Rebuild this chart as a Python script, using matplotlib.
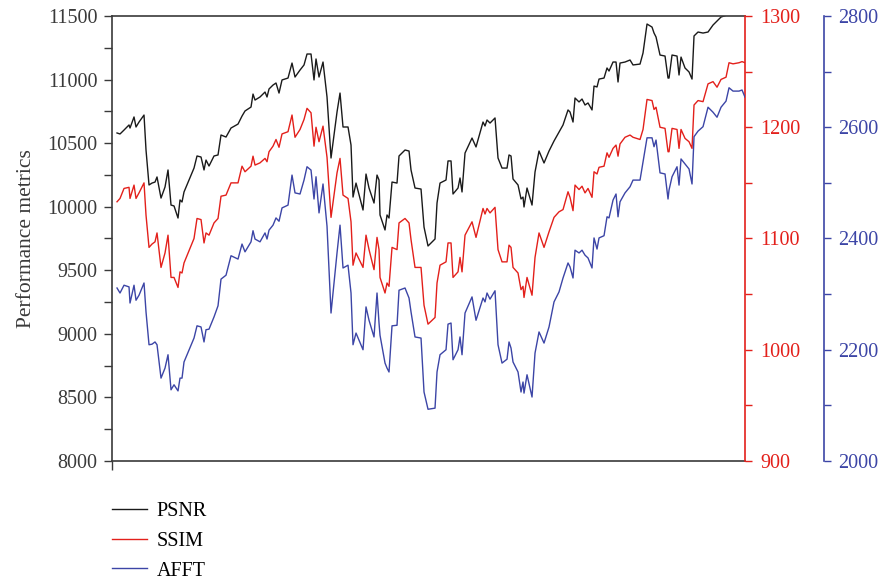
import matplotlib.pyplot as plt
from matplotlib.ticker import MultipleLocator

# trading-day index shared by the three metrics
days = [0, 3, 7, 12, 13, 17, 19, 22, 27, 29, 32, 35, 38, 40, 44, 48, 51, 54, 57, 61,
        63, 65, 67, 77, 80, 84, 87, 89, 92, 97, 101, 104, 109, 114, 121, 125, 128, 134, 136, 138,
        143, 148, 150, 152, 156, 159, 162, 165, 171, 175, 178, 183, 187, 190, 194, 197, 199, 202, 206, 210,
        214, 220, 223, 226, 231, 234, 236, 239, 246, 249, 252, 257, 260, 262, 263, 268, 270, 272, 275, 280,
        282, 288, 292, 294, 298, 304, 307, 311, 318, 320, 323, 329, 331, 334, 336, 341, 343, 345, 348, 355,
        359, 366, 368, 370, 373, 378, 381, 385, 390, 392, 394, 396, 401, 404, 406, 407, 410, 415, 418, 422,
        427, 432, 437, 442, 446, 451, 453, 456, 458, 462, 465, 468, 471, 475, 477, 480, 482, 487, 490, 492,
        496, 499, 501, 503, 508, 513, 516, 523, 526, 530, 535, 537, 539, 543, 548, 551, 552, 555, 560, 562,
        564, 568, 572, 575, 577, 581, 586, 591, 596, 600, 604, 609, 612, 616, 622, 625, 628]

psnr = [10580, 10572, 10603, 10643, 10619, 10706, 10627, 10666, 10721, 10446, 10171, 10186, 10194, 10234, 10068, 10155, 10289, 10013, 10006, 9911,
        10053, 10037, 10116, 10304, 10399, 10391, 10289, 10367, 10320, 10399, 10407, 10564, 10548, 10619, 10650, 10713, 10753, 10784, 10886, 10839,
        10863, 10902, 10863, 10926, 10957, 10973, 10894, 10997, 11012, 11130, 11020, 11075, 11115, 11201, 11201, 10997, 11162, 11020, 11138, 10863,
        10383, 10745, 10894, 10627, 10627, 10485, 10076, 10186, 9974, 10257, 10147, 10029, 10249, 10210, 9935, 9817, 9935, 9911, 10194, 10186,
        10399, 10446, 10438, 10289, 10147, 10139, 9840, 9691, 9746, 10029, 10186, 10210, 10360, 10360, 10100, 10147, 10226, 10116, 10422, 10540,
        10470, 10666, 10635, 10682, 10658, 10698, 10383, 10304, 10304, 10407, 10399, 10218, 10171, 10061, 10076, 9998, 10147, 10013, 10273, 10438,
        10344, 10438, 10517, 10588, 10643, 10761, 10745, 10666, 10855, 10824, 10847, 10800, 10816, 10761, 10949, 10942, 11004, 11012, 11091, 11067,
        11138, 11138, 10981, 11130, 11138, 11154, 11115, 11122, 11209, 11437, 11413, 11366, 11335, 11193, 11185, 11012, 11012, 11193, 11185, 11036,
        11177, 11091, 11060, 11004, 11343, 11374, 11366, 11374, 11429, 11461, 11492, 11505, 11547, 11563, 11555, 11547, 11539]

ssim = [1133, 1136, 1145, 1146, 1136, 1148, 1136, 1141, 1150, 1121, 1092, 1095, 1097, 1105, 1074, 1087, 1103, 1065, 1065, 1056,
        1070, 1069, 1078, 1100, 1118, 1117, 1096, 1105, 1103, 1114, 1118, 1138, 1139, 1150, 1150, 1165, 1160, 1165, 1174, 1166,
        1168, 1172, 1169, 1178, 1183, 1189, 1182, 1194, 1196, 1211, 1191, 1198, 1207, 1217, 1213, 1183, 1200, 1187, 1201, 1173,
        1119, 1159, 1172, 1139, 1136, 1115, 1076, 1087, 1074, 1103, 1090, 1072, 1101, 1090, 1065, 1051, 1060, 1057, 1092, 1090,
        1114, 1118, 1114, 1099, 1074, 1074, 1040, 1023, 1029, 1060, 1076, 1079, 1096, 1096, 1065, 1070, 1083, 1070, 1103, 1115,
        1101, 1127, 1122, 1127, 1123, 1128, 1090, 1079, 1079, 1094, 1092, 1074, 1069, 1054, 1057, 1047, 1065, 1049, 1083, 1105,
        1092, 1106, 1119, 1124, 1126, 1142, 1137, 1125, 1148, 1144, 1147, 1141, 1145, 1137, 1160, 1158, 1164, 1165, 1177, 1173,
        1181, 1184, 1174, 1185, 1191, 1193, 1191, 1189, 1198, 1225, 1224, 1216, 1218, 1200, 1199, 1178, 1178, 1199, 1198, 1181,
        1198, 1190, 1187, 1181, 1220, 1224, 1223, 1239, 1241, 1236, 1243, 1245, 1258, 1257, 1258, 1259, 1258]

afft = [2311, 2302, 2316, 2313, 2284, 2316, 2289, 2298, 2320, 2268, 2209, 2210, 2214, 2209, 2149, 2167, 2191, 2128, 2137, 2126,
        2149, 2149, 2178, 2221, 2243, 2241, 2214, 2236, 2237, 2259, 2279, 2327, 2334, 2369, 2363, 2390, 2376, 2394, 2414, 2399,
        2394, 2410, 2399, 2415, 2424, 2437, 2431, 2455, 2460, 2514, 2482, 2480, 2505, 2529, 2523, 2471, 2511, 2446, 2498, 2422,
        2266, 2374, 2424, 2347, 2352, 2302, 2209, 2230, 2200, 2277, 2253, 2223, 2302, 2248, 2226, 2176, 2167, 2160, 2243, 2244,
        2307, 2311, 2293, 2268, 2223, 2221, 2124, 2093, 2095, 2160, 2191, 2200, 2246, 2248, 2182, 2200, 2223, 2191, 2266, 2295,
        2253, 2293, 2286, 2302, 2291, 2306, 2209, 2176, 2183, 2214, 2203, 2178, 2160, 2124, 2142, 2122, 2155, 2115, 2194, 2232,
        2212, 2241, 2286, 2304, 2329, 2356, 2349, 2329, 2379, 2374, 2379, 2370, 2365, 2347, 2401, 2381, 2401, 2405, 2439, 2437,
        2469, 2480, 2439, 2466, 2482, 2493, 2505, 2505, 2538, 2581, 2581, 2565, 2577, 2518, 2516, 2471, 2487, 2511, 2529, 2496,
        2543, 2534, 2525, 2498, 2583, 2593, 2601, 2636, 2627, 2618, 2636, 2647, 2671, 2665, 2665, 2667, 2654]

BLACK = '#1a1a1a'
RED = '#e3201b'
BLUE = '#3c45a6'
GREY = '#3a3a3a'

plt.rcParams['font.family'] = ['Liberation Serif', 'DejaVu Serif']
plt.rcParams['font.size'] = 14.5

fig = plt.figure(figsize=(8.82, 5.8), dpi=100)
ax = fig.add_axes([0.127, 0.2052, 0.7177, 0.7672])
ax_r = ax.twinx()
ax_b = ax.twinx()
ax_b.spines['right'].set_position(('axes', 1.1248))

l1, = ax.plot(days, psnr, color=BLACK, lw=1.0)
l2, = ax_r.plot(days, ssim, color=RED, lw=1.0)
l3, = ax_b.plot(days, afft, color=BLUE, lw=1.0)

ax.set_xlim(-5, 628)
ax.set_xticks([-5])
ax.set_xticklabels([''])
ax.tick_params(axis='x', length=6.5, width=1, color=GREY)

ax.set_ylim(8000, 11500)
ax.yaxis.set_major_locator(MultipleLocator(500))
ax.yaxis.set_minor_locator(MultipleLocator(250))
ax.tick_params(axis='y', which='both', length=5.8, width=1, color=GREY, labelcolor=GREY, pad=4.5)
ax.set_ylabel('Performance metrics', color=GREY, fontsize=15.5, labelpad=8)

ax_r.set_ylim(900, 1300)
ax_r.yaxis.set_major_locator(MultipleLocator(100))
ax_r.yaxis.set_minor_locator(MultipleLocator(50))
ax_r.tick_params(axis='y', which='both', length=5, width=1, color=RED, labelcolor=RED, pad=6)

ax_b.set_ylim(2000, 2800)
ax_b.yaxis.set_major_locator(MultipleLocator(200))
ax_b.yaxis.set_minor_locator(MultipleLocator(100))
ax_b.tick_params(axis='y', which='both', length=5, width=1, color=BLUE, labelcolor=BLUE, pad=5.5)

for s in ['left', 'top', 'bottom']:
    ax.spines[s].set_color(GREY)
    ax.spines[s].set_linewidth(1.2)
ax.spines['right'].set_visible(False)
for a in (ax_r, ax_b):
    for s in ['left', 'top', 'bottom']:
        a.spines[s].set_visible(False)
ax_r.spines['right'].set_color(RED)
ax_r.spines['right'].set_linewidth(1.2)
ax_b.spines['right'].set_color(BLUE)
ax_b.spines['right'].set_linewidth(1.2)

fig.legend([l1, l2, l3], ['PSNR', 'SSIM', 'AFFT'], loc='upper left',
           bbox_to_anchor=(0.127, 0.134), frameon=False, handlelength=1.75,
           handletextpad=0.45, labelspacing=0.52, borderpad=0, borderaxespad=0)

fig.savefig('out.png', dpi=100)
